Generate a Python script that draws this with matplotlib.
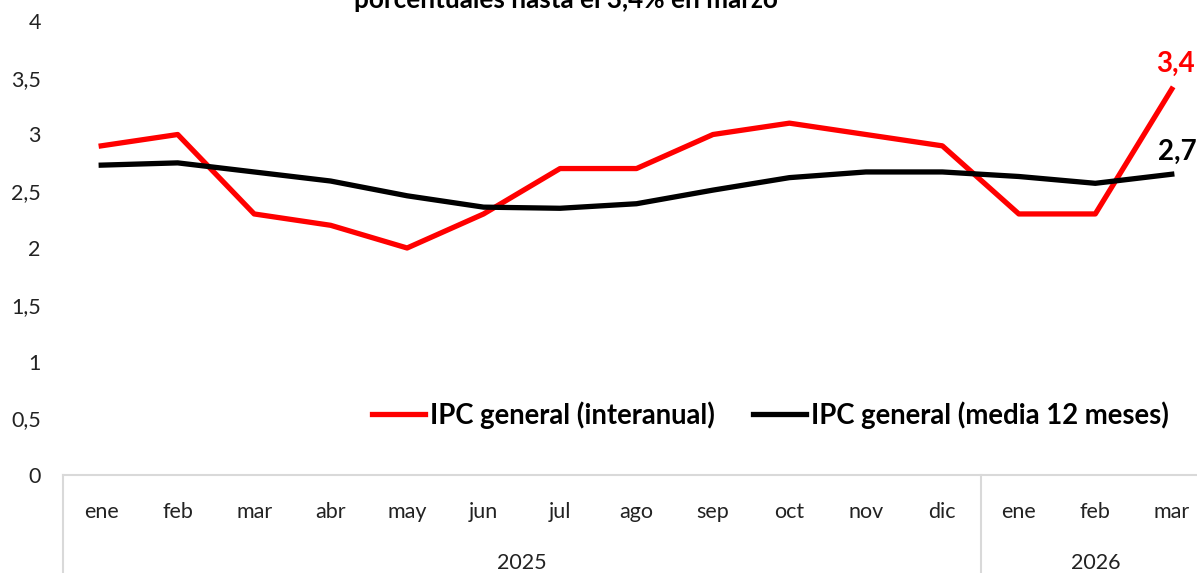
import matplotlib.pyplot as plt
import numpy as np

plt.rcParams['font.family'] = ['Lato', 'DejaVu Sans']

# Datos IPC (%), ene 2025 - mar 2026
months = ['ene', 'feb', 'mar', 'abr', 'may', 'jun', 'jul', 'ago', 'sep', 'oct', 'nov', 'dic',
          'ene', 'feb', 'mar']
years = ['2025', '2026']
year_spans = [(0, 11), (12, 14)]
ipc_interanual = [2.9, 3.0, 2.3, 2.2, 2.0, 2.3, 2.7, 2.7, 3.0, 3.1, 3.0, 2.9, 2.3, 2.3, 3.4]
ipc_media12 = [2.73, 2.75, 2.67, 2.59, 2.46, 2.36, 2.35, 2.39, 2.51, 2.62, 2.67, 2.67, 2.63, 2.57, 2.65]
yticks = [0, 0.5, 1, 1.5, 2, 2.5, 3, 3.5, 4]

W, H = 1197, 573
fig = plt.figure(figsize=(W / 100, H / 100), dpi=100)
ax = fig.add_axes([63 / W, 98 / H, (1210 - 63) / W, 454 / H])

x = np.arange(len(months))
ax.plot(x, ipc_interanual, color='#ff0000', lw=3.8, label='IPC general (interanual)')
ax.plot(x, ipc_media12, color='black', lw=3.8, label='IPC general (media 12 meses)')

ax.set_xlim(-0.5, len(months) - 0.5)
ax.set_ylim(0, 4)
ax.set_yticks(yticks)
ax.set_yticklabels([f'{t:g}'.replace('.', ',') for t in yticks], fontsize=15.5)
ax.tick_params(axis='y', length=0, pad=16, colors='#222222')
ax.set_xticks([])

for s in ['top', 'right', 'left']:
    ax.spines[s].set_visible(False)
ax.spines['bottom'].set_color('#d9d9d9')
ax.spines['bottom'].set_linewidth(1.5)

# etiquetas del eje x en dos niveles
tr = ax.get_xaxis_transform()
for i, m in enumerate(months):
    ax.text(i, -0.082, m, transform=tr, ha='center', va='center', fontsize=15.5, color='#222222')
for yr, (a, b) in zip(years, year_spans):
    ax.text((a + b) / 2, -0.193, yr, transform=tr, ha='center', va='center', fontsize=15.5,
            color='#222222')
for sep in [-0.5, 11.5]:
    ax.plot([sep, sep], [0, -0.25], transform=tr, color='#d9d9d9', lw=1.5, clip_on=False)

# valores finales
ax.annotate('3,4', (x[-1], ipc_interanual[-1]), xytext=(3, 18), textcoords='offset points',
            ha='center', va='center', color='#ff0000', fontsize=20, fontweight='bold')
ax.annotate('2,7', (x[-1], ipc_media12[-1]), xytext=(4, 16), textcoords='offset points',
            ha='center', va='center', color='black', fontsize=20, fontweight='bold')

ax.legend(loc='center', bbox_to_anchor=(0.617, 0.132), ncol=2, frameon=False,
          prop={'size': 19.8, 'weight': 'bold'}, handlelength=1.9, columnspacing=1.4,
          handletextpad=0.2)

fig.text(566 / W, 1 - 8 / H, 'porcentuales hasta el 3,4% en marzo', ha='center', va='baseline',
         fontsize=18.8, fontweight='bold')

fig.savefig('out.png', dpi=100)
